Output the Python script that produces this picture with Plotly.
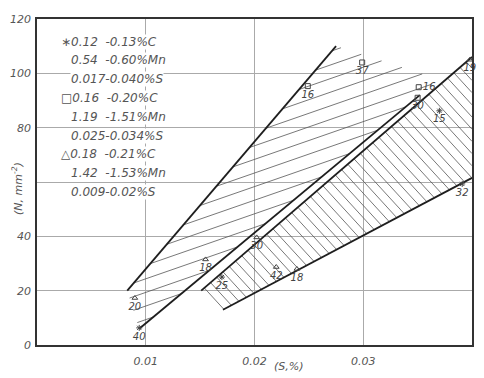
import numpy as np
import plotly.graph_objects as go

# ---------------- data ----------------
# boundary lines (S %, stress N/mm^2)
line_a_x = [0.0083, 0.0275]
line_a_y = [20, 110]
line_b_x = [0.0094, 0.0352]
line_b_y = [6, 92]
line_c_x = [0.0151, 0.0400]
line_c_y = [20, 106]
line_d_x = [0.0171, 0.0400]
line_d_y = [13, 61.5]

# hatched regions (polygons)
region1_x = [0.0083, 0.0275, 0.0368, 0.0352, 0.0094]
region1_y = [20, 110, 98, 92, 6]
region2_x = [0.0151, 0.0400, 0.0400, 0.0171]
region2_y = [20, 106, 61.5, 13]

# measured points
pt_x = [0.0090, 0.0094, 0.0155, 0.0170, 0.0202, 0.0220, 0.0239, 0.0249, 0.0299, 0.0351, 0.0350, 0.0370, 0.0398, 0.0391]
pt_y = [17.3, 6.3, 31.5, 25.0, 39.6, 28.7, 28.0, 95.3, 104.0, 94.9, 91.0, 86.2, 105.0, 59.3]
pt_lab = ["20", "40", "18", "25", "30", "42", "18", "16", "37", "16", "30", "15", "19", "32"]
pt_sym = ["triangle-up-open", "asterisk-open", "triangle-up-open", "asterisk-open",
          "triangle-up-open", "triangle-up-open", "triangle-up-open", "square-open",
          "square-open", "square-open", "square-open", "asterisk-open",
          "triangle-up-open", "asterisk-open"]
pt_pos = ["bottom center"] * 9 + ["middle right", "bottom center", "bottom center",
                                  "bottom center", "bottom center"]

legend_lines = ["∗0.12  -0.13%C", "0.54  -0.60%Mn", "0.017-0.040%S",
                "□0.16  -0.20%C", "1.19  -1.51%Mn", "0.025-0.034%S",
                "△0.18  -0.21%C", "1.42  -1.53%Mn", "0.009-0.02%S"]
legend_indent = [0, 1, 1, 0, 1, 1, 0, 1, 1]

x_ticks = [0.01, 0.02, 0.03, 0.04]
x_ticktext = ["0.01", "0.02", "0.03", "0.04"]
y_ticks = [0, 20, 40, 80, 100, 120]
y_ticktext = ["0", "20", "40", "80", "100", "120"]
y_extra_grid = [60]

# ---------------- geometry helpers ----------------
W, H = 484, 378
ML, MR, MT, MB = 37, 10, 19, 29
PW, PH = W - ML - MR, H - MT - MB
SX = PW / 0.04
SY = PH / 120.0


def hatch(px, py, slope, spacing):
    P = np.column_stack([np.array(px) * SX, np.array(py) * SY])
    d = np.array([1.0, slope]); d /= np.linalg.norm(d)
    n = np.array([-d[1], d[0]])
    proj = P @ n
    xs, ys = [], []
    n_pts = len(P)
    for c in np.arange(proj.min() + spacing / 2, proj.max(), spacing):
        ts = []
        for i in range(n_pts):
            a, b = P[i], P[(i + 1) % n_pts]
            fa, fb = a @ n - c, b @ n - c
            if fa * fb < 0:
                t = fa / (fa - fb)
                q = a + t * (b - a)
                ts.append(q @ d)
        ts.sort()
        for k in range(0, len(ts) - 1, 2):
            p0 = c * n + ts[k] * d
            p1 = c * n + ts[k + 1] * d
            xs += [p0[0] / SX, p1[0] / SX, None]
            ys += [p0[1] / SY, p1[1] / SY, None]
    return xs, ys


fig = go.Figure()

h1x, h1y = hatch(region1_x, region1_y, 0.35, 13.0)
h2x, h2y = hatch(region2_x, region2_y, -1.1, 8.3)
for hx, hy in [(h1x, h1y), (h2x, h2y)]:
    fig.add_trace(go.Scatter(x=hx, y=hy, mode="lines",
                             line=dict(color="#555555", width=0.8),
                             hoverinfo="skip", showlegend=False))

for lx, ly in [(line_a_x, line_a_y), (line_b_x, line_b_y),
               (line_c_x, line_c_y), (line_d_x, line_d_y)]:
    fig.add_trace(go.Scatter(x=lx, y=ly, mode="lines",
                             line=dict(color="#1e1e1e", width=1.8),
                             showlegend=False))

fig.add_trace(go.Scatter(
    x=pt_x, y=pt_y, mode="markers+text", text=pt_lab, textposition=pt_pos,
    marker=dict(symbol=pt_sym, size=5, color="#444444",
                line=dict(color="#444444", width=1)),
    textfont=dict(family="DejaVu Sans", size=10, color="#444444", style="italic"),
    cliponaxis=False, showlegend=False))

font_it = dict(family="DejaVu Sans", size=11, color="#555555", style="italic")
font_leg = dict(family="DejaVu Sans", size=12, color="#555555", style="italic")

annotations = []
for i, (txt, ind) in enumerate(zip(legend_lines, legend_indent)):
    px_ = 60 + ind * 10
    py_ = 42 + i * 19
    annotations.append(dict(
        text=txt, xref="paper", yref="paper",
        x=(px_ - ML) / PW, y=(H - MB - py_) / PH,
        xanchor="left", yanchor="middle", showarrow=False,
        bgcolor="white", borderpad=0, font=font_leg))

annotations.append(dict(
    text="(N, mm<sup>-2</sup>)", xref="paper", yref="paper",
    x=(18 - ML) / PW, y=(H - MB - 191) / PH, textangle=-90,
    xanchor="center", yanchor="middle", showarrow=False, font=font_it))
annotations.append(dict(
    text="(S,%)", xref="paper", yref="paper",
    x=(290 - ML) / PW, y=(H - MB - 371) / PH,
    xanchor="center", yanchor="middle", showarrow=False, font=font_it))

fig.update_layout(
    width=W, height=H,
    margin=dict(l=ML, r=MR, t=MT, b=MB),
    paper_bgcolor="white", plot_bgcolor="white",
    annotations=annotations,
    xaxis=dict(range=[0, 0.04], tickvals=x_ticks, ticktext=x_ticktext,
               showgrid=True, gridcolor="#aaaaaa", gridwidth=1,
               showline=True, linecolor="#333333", linewidth=1.5, mirror=True,
               ticks="outside", ticklen=5, tickcolor="rgba(0,0,0,0)",
               tickfont=font_it, zeroline=False, fixedrange=True),
    yaxis=dict(range=[0, 120], tickvals=y_ticks, ticktext=y_ticktext,
               showgrid=True, gridcolor="#aaaaaa", gridwidth=1,
               minor=dict(tickvals=y_extra_grid, showgrid=True,
                          gridcolor="#aaaaaa", gridwidth=1, ticks=""),
               showline=True, linecolor="#333333", linewidth=1.5, mirror=True,
               ticks="outside", ticklen=2, tickcolor="rgba(0,0,0,0)",
               tickfont=font_it, zeroline=False, fixedrange=True),
)

fig.write_html("out.html")
